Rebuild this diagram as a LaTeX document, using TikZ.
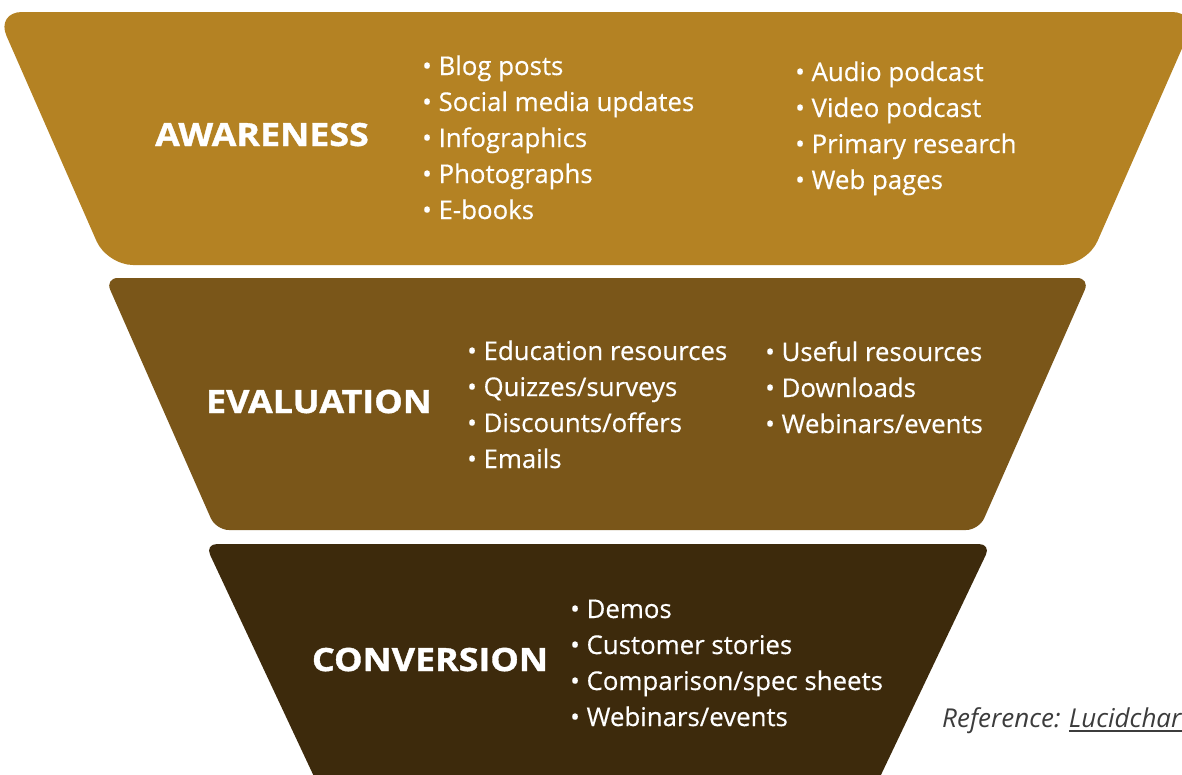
\documentclass[tikz,border=0pt]{standalone}
\usepackage{fontspec}
\setmainfont{Open Sans}
\usetikzlibrary{calc}

\definecolor{awareC}{HTML}{B48223}
\definecolor{evalC}{HTML}{7A5619}
\definecolor{convC}{HTML}{3D2A0C}
\definecolor{noteC}{HTML}{3C3C3C}

\begin{document}
\begin{tikzpicture}[x=1pt, y=-1pt,
  stage/.style={fill=#1, draw=none},
  stagelabel/.style={text=white, inner sep=0pt, anchor=base,
    font=\fontsize{32}{38}\selectfont\bfseries\addfontfeature{FakeStretch=1.12,FakeBold=1.2}},
  item/.style={text=white, inner sep=0pt, anchor=base west,
    font=\fontsize{25.8}{36}\selectfont\addfontfeature{FakeBold=0.4}},
  note/.style={text=noteC, inner sep=0pt, anchor=base west,
    font=\fontsize{26}{30}\selectfont\itshape}]

  \useasboundingbox (0,0) rectangle (1182,774);
  \clip (0,0) rectangle (1182,774);

  % funnel stages
  \fill[stage=awareC, rounded corners=26pt]
    (-4,12) -- (1198,12) -- (1087,265) -- (107,265) -- cycle;
  \fill[stage=evalC, rounded corners=13pt]
    (105,278) -- (1090,278) -- (979,530) -- (216,530) -- cycle;
  \fill[stage=convC, rounded corners=12pt]
    (205,544) -- (991,544) -- (869,800) -- (325,800) -- cycle;

  % stage titles
  \node[stagelabel] (aware) at (262,146) {AWARENESS};
  \node[stagelabel] (eval)  at (319,413) {EVALUATION};
  \node[stagelabel] (conv)  at (430,671) {CONVERSION};

  % awareness content
  \foreach \t [count=\i] in {Blog posts, Social media updates, Infographics, Photographs, E-books}
    \node[item] (a1\i) at (422, {75+36*(\i-1)}) {• \t};
  \foreach \t [count=\i] in {Audio podcast, Video podcast, Primary research, Web pages}
    \node[item] (a2\i) at (795, {81+36*(\i-1)}) {• \t};

  % evaluation content
  \foreach \t [count=\i] in {Education resources, Quizzes/surveys, Discounts/offers, Emails}
    \node[item] (e1\i) at (467, {360+36*(\i-1)}) {• \t};
  \foreach \t [count=\i] in {Useful resources, Downloads, Webinars/events}
    \node[item] (e2\i) at (765, {361+36*(\i-1)}) {• \t};

  % conversion content
  \foreach \t [count=\i] in {Demos, Customer stories, Comparison/spec sheets, Webinars/events}
    \node[item] (c1\i) at (570, {618+36*(\i-1)}) {• \t};

  % source note
  \node[note] (ref) at (942,727) {Reference:};
  \node[note, anchor=base west] (src) at ($(ref.base east)+(8,0)$) {Lucidchart};
  \draw[noteC, line width=1.6pt]
    ([yshift=-4pt]src.base west) -- ([yshift=-4pt]src.base east);
\end{tikzpicture}
\end{document}
